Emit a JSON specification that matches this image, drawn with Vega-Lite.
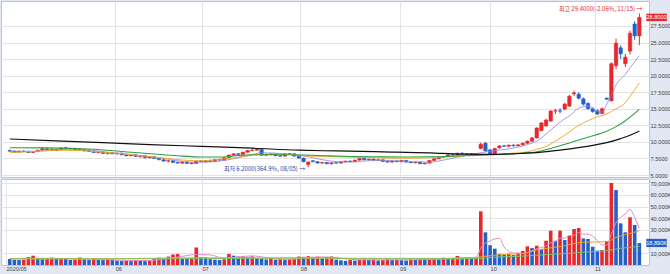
{
"$schema": "https://vega.github.io/schema/vega-lite/v6.json",
"padding": 0,
"background": "#e1e8f3",
"spacing": 2,
"bounds": "flush",
"config": {
 "view": {"stroke": "#c4c4c4", "fill": "white"},
 "font": "Noto Sans CJK KR",
 "axis": {"labelFont": "Liberation Sans", "labelFontSize": 6, "labelColor": "#444", "gridColor": "#e4e4e4", "gridWidth": 1, "ticks": false, "domain": false}
},
"resolve": {"scale": {"color": "independent", "strokeWidth": "independent"}},
"datasets": {
 "k": [
{"i":0,"o":8.70,"h":8.85,"l":8.55,"c":8.60,"v":5100},
{"i":1,"o":8.60,"h":8.70,"l":8.40,"c":8.45,"v":4500},
{"i":2,"o":8.45,"h":8.65,"l":8.40,"c":8.60,"v":4300},
{"i":3,"o":8.60,"h":8.75,"l":8.50,"c":8.55,"v":4600},
{"i":4,"o":8.50,"h":8.70,"l":8.35,"c":8.40,"v":6800},
{"i":5,"o":8.40,"h":8.60,"l":8.30,"c":8.55,"v":8000},
{"i":6,"o":8.55,"h":8.80,"l":8.50,"c":8.75,"v":5500},
{"i":7,"o":8.75,"h":9.25,"l":8.70,"c":8.95,"v":5000},
{"i":8,"o":8.95,"h":9.10,"l":8.80,"c":8.85,"v":5300},
{"i":9,"o":8.85,"h":9.00,"l":8.65,"c":8.70,"v":6300},
{"i":10,"o":8.70,"h":8.90,"l":8.60,"c":8.85,"v":5200},
{"i":11,"o":8.85,"h":9.20,"l":8.80,"c":9.05,"v":5900},
{"i":12,"o":9.10,"h":9.25,"l":8.90,"c":8.95,"v":5500},
{"i":13,"o":8.95,"h":9.10,"l":8.80,"c":9.00,"v":4300},
{"i":14,"o":9.00,"h":9.10,"l":8.75,"c":8.80,"v":4600},
{"i":15,"o":8.80,"h":8.95,"l":8.65,"c":8.85,"v":6400},
{"i":16,"o":8.85,"h":8.90,"l":8.60,"c":8.65,"v":4800},
{"i":17,"o":8.65,"h":8.80,"l":8.50,"c":8.55,"v":4300},
{"i":18,"o":8.55,"h":8.70,"l":8.35,"c":8.40,"v":5400},
{"i":19,"o":8.40,"h":8.55,"l":8.25,"c":8.45,"v":4600},
{"i":20,"o":8.45,"h":8.50,"l":8.20,"c":8.25,"v":4200},
{"i":21,"o":8.25,"h":8.40,"l":8.10,"c":8.35,"v":4700},
{"i":22,"o":8.35,"h":8.45,"l":8.15,"c":8.20,"v":4400},
{"i":23,"o":8.20,"h":8.35,"l":8.05,"c":8.30,"v":3800},
{"i":24,"o":8.30,"h":8.35,"l":8.00,"c":8.05,"v":3400},
{"i":25,"o":8.05,"h":8.15,"l":7.85,"c":7.90,"v":3600},
{"i":26,"o":7.90,"h":8.10,"l":7.85,"c":8.05,"v":3300},
{"i":27,"o":8.05,"h":8.15,"l":7.75,"c":7.80,"v":3900},
{"i":28,"o":7.80,"h":7.95,"l":7.60,"c":7.90,"v":3500},
{"i":29,"o":7.90,"h":7.95,"l":7.55,"c":7.60,"v":3300},
{"i":30,"o":7.60,"h":7.80,"l":7.50,"c":7.75,"v":4200},
{"i":31,"o":7.75,"h":7.80,"l":7.45,"c":7.50,"v":5200},
{"i":32,"o":7.50,"h":7.60,"l":7.25,"c":7.30,"v":6300},
{"i":33,"o":7.30,"h":7.40,"l":7.05,"c":7.10,"v":5500},
{"i":34,"o":7.10,"h":7.25,"l":6.90,"c":7.15,"v":7200},
{"i":35,"o":7.15,"h":7.20,"l":6.85,"c":6.90,"v":9000},
{"i":36,"o":6.90,"h":7.05,"l":6.75,"c":6.80,"v":9400},
{"i":37,"o":6.80,"h":7.00,"l":6.65,"c":6.95,"v":5700},
{"i":38,"o":6.95,"h":7.05,"l":6.70,"c":6.75,"v":5500},
{"i":39,"o":6.75,"h":6.90,"l":6.60,"c":6.85,"v":5900},
{"i":40,"o":6.75,"h":7.15,"l":6.70,"c":7.10,"v":15000},
{"i":41,"o":7.10,"h":7.25,"l":6.95,"c":7.00,"v":6800},
{"i":42,"o":7.00,"h":7.20,"l":6.90,"c":7.15,"v":6500},
{"i":43,"o":7.15,"h":7.30,"l":7.00,"c":7.05,"v":5000},
{"i":44,"o":7.05,"h":7.40,"l":7.00,"c":7.35,"v":4600},
{"i":45,"o":7.35,"h":7.45,"l":7.15,"c":7.25,"v":4300},
{"i":46,"o":7.25,"h":7.65,"l":7.20,"c":7.60,"v":4900},
{"i":47,"o":7.60,"h":8.10,"l":7.55,"c":8.00,"v":9400},
{"i":48,"o":8.00,"h":8.25,"l":7.90,"c":8.20,"v":8000},
{"i":49,"o":8.20,"h":8.35,"l":8.05,"c":8.10,"v":7200},
{"i":50,"o":8.10,"h":8.50,"l":8.05,"c":8.45,"v":7600},
{"i":51,"o":8.45,"h":8.80,"l":8.40,"c":8.70,"v":6800},
{"i":52,"o":8.70,"h":9.10,"l":8.60,"c":8.75,"v":7400},
{"i":53,"o":8.75,"h":9.05,"l":8.65,"c":8.90,"v":5600},
{"i":54,"o":8.85,"h":8.90,"l":7.90,"c":8.00,"v":5400},
{"i":55,"o":8.00,"h":8.20,"l":7.85,"c":8.10,"v":4800},
{"i":56,"o":8.10,"h":8.30,"l":7.95,"c":8.20,"v":5200},
{"i":57,"o":8.20,"h":8.25,"l":7.85,"c":7.90,"v":4600},
{"i":58,"o":7.90,"h":8.05,"l":7.75,"c":7.85,"v":5000},
{"i":59,"o":7.85,"h":8.30,"l":7.80,"c":8.20,"v":4500},
{"i":60,"o":8.20,"h":8.30,"l":8.10,"c":8.22,"v":4900},
{"i":61,"o":8.20,"h":8.25,"l":7.80,"c":7.85,"v":5600},
{"i":62,"o":7.85,"h":7.95,"l":7.50,"c":7.55,"v":7200},
{"i":63,"o":7.55,"h":7.60,"l":6.95,"c":7.00,"v":7000},
{"i":64,"o":6.60,"h":7.05,"l":6.20,"c":6.95,"v":7600},
{"i":65,"o":7.15,"h":7.25,"l":6.95,"c":7.00,"v":6500},
{"i":66,"o":7.00,"h":7.10,"l":6.75,"c":6.80,"v":7100},
{"i":67,"o":6.80,"h":6.95,"l":6.70,"c":6.90,"v":6300},
{"i":68,"o":6.90,"h":6.95,"l":6.65,"c":6.70,"v":6800},
{"i":69,"o":6.70,"h":6.90,"l":6.60,"c":6.85,"v":7300},
{"i":70,"o":6.85,"h":7.00,"l":6.75,"c":6.80,"v":4600},
{"i":71,"o":6.80,"h":7.05,"l":6.75,"c":7.00,"v":4000},
{"i":72,"o":7.00,"h":7.15,"l":6.90,"c":7.10,"v":3600},
{"i":73,"o":7.10,"h":7.20,"l":6.95,"c":7.00,"v":4200},
{"i":74,"o":7.00,"h":7.30,"l":6.95,"c":7.25,"v":3800},
{"i":75,"o":7.25,"h":7.55,"l":7.20,"c":7.50,"v":4500},
{"i":76,"o":7.50,"h":7.60,"l":7.25,"c":7.30,"v":4800},
{"i":77,"o":7.30,"h":7.45,"l":7.20,"c":7.40,"v":4300},
{"i":78,"o":7.40,"h":7.45,"l":7.20,"c":7.25,"v":4700},
{"i":79,"o":7.25,"h":7.35,"l":7.10,"c":7.30,"v":3900},
{"i":80,"o":7.30,"h":7.35,"l":7.00,"c":7.05,"v":4200},
{"i":81,"o":7.05,"h":7.20,"l":6.90,"c":6.95,"v":5000},
{"i":82,"o":6.95,"h":7.15,"l":6.90,"c":7.10,"v":4400},
{"i":83,"o":7.10,"h":7.20,"l":6.95,"c":7.00,"v":4600},
{"i":84,"o":7.00,"h":7.25,"l":6.95,"c":7.20,"v":4100},
{"i":85,"o":7.20,"h":7.25,"l":6.90,"c":6.95,"v":3900},
{"i":86,"o":6.95,"h":7.05,"l":6.80,"c":6.85,"v":4800},
{"i":87,"o":6.85,"h":7.00,"l":6.75,"c":6.95,"v":4300},
{"i":88,"o":6.95,"h":7.00,"l":6.65,"c":6.70,"v":5200},
{"i":89,"o":6.70,"h":6.85,"l":6.60,"c":6.80,"v":4600},
{"i":90,"o":6.80,"h":7.25,"l":6.75,"c":7.20,"v":5400},
{"i":91,"o":7.20,"h":7.50,"l":7.15,"c":7.45,"v":5800},
{"i":92,"o":7.45,"h":7.75,"l":7.40,"c":7.70,"v":5000},
{"i":93,"o":7.70,"h":7.85,"l":7.60,"c":7.80,"v":6200},
{"i":94,"o":7.80,"h":8.10,"l":7.75,"c":8.05,"v":5500},
{"i":95,"o":8.05,"h":8.25,"l":7.95,"c":8.00,"v":6000},
{"i":96,"o":8.00,"h":8.35,"l":7.95,"c":8.30,"v":7700},
{"i":97,"o":8.30,"h":8.40,"l":8.15,"c":8.20,"v":6200},
{"i":98,"o":8.20,"h":8.30,"l":8.10,"c":8.25,"v":6800},
{"i":99,"o":8.25,"h":8.30,"l":8.05,"c":8.10,"v":6000},
{"i":100,"o":8.10,"h":8.25,"l":8.00,"c":8.20,"v":6500},
{"i":101,"o":9.00,"h":9.90,"l":8.90,"c":9.65,"v":46000},
{"i":102,"o":9.80,"h":10.00,"l":8.50,"c":8.65,"v":28000},
{"i":103,"o":8.80,"h":8.90,"l":8.10,"c":8.20,"v":17000},
{"i":104,"o":8.20,"h":9.10,"l":8.15,"c":9.00,"v":14000},
{"i":105,"o":9.10,"h":9.50,"l":9.00,"c":9.40,"v":9500},
{"i":106,"o":9.40,"h":9.55,"l":9.25,"c":9.35,"v":9000},
{"i":107,"o":9.35,"h":9.60,"l":9.25,"c":9.50,"v":9800},
{"i":108,"o":9.50,"h":9.65,"l":9.30,"c":9.40,"v":8500},
{"i":109,"o":9.40,"h":9.70,"l":9.35,"c":9.55,"v":10500},
{"i":110,"o":9.55,"h":9.90,"l":9.50,"c":9.80,"v":12000},
{"i":111,"o":9.80,"h":10.20,"l":9.70,"c":10.10,"v":16000},
{"i":112,"o":10.10,"h":10.70,"l":10.00,"c":10.60,"v":14500},
{"i":113,"o":10.60,"h":12.20,"l":10.50,"c":12.10,"v":16500},
{"i":114,"o":11.70,"h":13.00,"l":11.60,"c":12.85,"v":13700},
{"i":115,"o":12.40,"h":13.50,"l":12.30,"c":13.30,"v":20800},
{"i":116,"o":13.15,"h":14.80,"l":13.00,"c":14.65,"v":29400},
{"i":117,"o":14.65,"h":15.00,"l":14.20,"c":14.70,"v":20800},
{"i":118,"o":14.70,"h":15.10,"l":14.30,"c":14.65,"v":29400},
{"i":119,"o":14.95,"h":15.90,"l":14.80,"c":15.70,"v":21400},
{"i":120,"o":15.40,"h":17.10,"l":15.30,"c":16.90,"v":25100},
{"i":121,"o":17.25,"h":17.75,"l":16.90,"c":17.40,"v":30800},
{"i":122,"o":17.20,"h":17.50,"l":16.40,"c":16.60,"v":31700},
{"i":123,"o":16.50,"h":16.70,"l":15.50,"c":15.70,"v":22800},
{"i":124,"o":15.80,"h":16.00,"l":14.90,"c":15.00,"v":22300},
{"i":125,"o":15.00,"h":15.20,"l":14.40,"c":14.60,"v":15700},
{"i":126,"o":14.70,"h":14.90,"l":14.10,"c":14.20,"v":12300},
{"i":127,"o":14.30,"h":15.20,"l":14.20,"c":15.00,"v":12900},
{"i":128,"o":16.60,"h":16.70,"l":16.30,"c":16.45,"v":20600},
{"i":129,"o":16.20,"h":22.00,"l":16.10,"c":21.80,"v":70300},
{"i":130,"o":21.50,"h":25.60,"l":21.00,"c":24.90,"v":64300},
{"i":131,"o":24.20,"h":24.60,"l":22.50,"c":23.30,"v":35700},
{"i":132,"o":21.80,"h":23.30,"l":21.30,"c":22.80,"v":28000},
{"i":133,"o":23.70,"h":26.80,"l":23.20,"c":26.40,"v":40900},
{"i":134,"o":27.80,"h":28.20,"l":25.40,"c":26.00,"v":34360},
{"i":135,"o":26.00,"h":29.40,"l":24.60,"c":28.80,"v":18890}
 ],
 "pma": [
{"s":"10","i":0,"v":8.6},{"s":"10","i":3,"v":8.55},{"s":"10","i":6,"v":8.6},{"s":"10","i":9,"v":8.75},{"s":"10","i":12,"v":8.9},{"s":"10","i":15,"v":8.9},{"s":"10","i":18,"v":8.7},{"s":"10","i":21,"v":8.45},{"s":"10","i":24,"v":8.25},{"s":"10","i":27,"v":8.0},{"s":"10","i":30,"v":7.75},{"s":"10","i":33,"v":7.5},{"s":"10","i":36,"v":7.15},{"s":"10","i":39,"v":6.95},{"s":"10","i":42,"v":6.95},{"s":"10","i":45,"v":7.1},{"s":"10","i":48,"v":7.45},{"s":"10","i":51,"v":7.9},{"s":"10","i":54,"v":8.35},{"s":"10","i":57,"v":8.3},{"s":"10","i":60,"v":8.15},{"s":"10","i":63,"v":7.9},{"s":"10","i":66,"v":7.45},{"s":"10","i":69,"v":7.1},{"s":"10","i":72,"v":6.95},{"s":"10","i":75,"v":7.05},{"s":"10","i":78,"v":7.2},{"s":"10","i":81,"v":7.2},{"s":"10","i":84,"v":7.1},{"s":"10","i":87,"v":7.0},{"s":"10","i":90,"v":6.95},{"s":"10","i":93,"v":7.25},{"s":"10","i":96,"v":7.7},{"s":"10","i":99,"v":8.1},{"s":"10","i":101,"v":8.35},{"s":"10","i":103,"v":8.6},{"s":"10","i":106,"v":8.85},{"s":"10","i":109,"v":9.2},{"s":"10","i":111,"v":9.6},{"s":"10","i":113,"v":10.1},{"s":"10","i":115,"v":11.2},{"s":"10","i":117,"v":12.4},{"s":"10","i":119,"v":13.5},{"s":"10","i":120,"v":13.9},{"s":"10","i":122,"v":15.1},{"s":"10","i":124,"v":15.4},{"s":"10","i":126,"v":14.6},{"s":"10","i":127,"v":14.5},{"s":"10","i":128,"v":15.7},{"s":"10","i":129,"v":17.0},{"s":"10","i":130,"v":18.6},{"s":"10","i":131,"v":19.5},{"s":"10","i":132,"v":20.2},{"s":"10","i":133,"v":21.2},{"s":"10","i":134,"v":22.1},{"s":"10","i":135,"v":23.0},
{"s":"20","i":0,"v":8.35},{"s":"20","i":5,"v":8.55},{"s":"20","i":10,"v":8.73},{"s":"20","i":15,"v":8.7},{"s":"20","i":20,"v":8.45},{"s":"20","i":25,"v":8.15},{"s":"20","i":31,"v":7.72},{"s":"20","i":35,"v":7.4},{"s":"20","i":38,"v":7.21},{"s":"20","i":41,"v":7.15},{"s":"20","i":45,"v":7.35},{"s":"20","i":48,"v":7.6},{"s":"20","i":52,"v":8.0},{"s":"20","i":56,"v":8.15},{"s":"20","i":60,"v":8.1},{"s":"20","i":63,"v":7.9},{"s":"20","i":68,"v":7.8},{"s":"20","i":73,"v":7.7},{"s":"20","i":78,"v":7.6},{"s":"20","i":84,"v":7.52},{"s":"20","i":90,"v":7.6},{"s":"20","i":94,"v":7.75},{"s":"20","i":98,"v":7.95},{"s":"20","i":102,"v":8.05},{"s":"20","i":105,"v":8.1},{"s":"20","i":108,"v":8.3},{"s":"20","i":111,"v":8.5},{"s":"20","i":113,"v":8.9},{"s":"20","i":115,"v":9.3},{"s":"20","i":117,"v":10.1},{"s":"20","i":120,"v":11.5},{"s":"20","i":122,"v":12.5},{"s":"20","i":124,"v":13.2},{"s":"20","i":126,"v":13.8},{"s":"20","i":128,"v":14.2},{"s":"20","i":130,"v":15.0},{"s":"20","i":132,"v":15.9},{"s":"20","i":133,"v":16.9},{"s":"20","i":134,"v":17.9},{"s":"20","i":135,"v":18.9},
{"s":"60","i":0,"v":9.12},{"s":"60","i":7,"v":9.1},{"s":"60","i":13,"v":9.03},{"s":"60","i":20,"v":8.78},{"s":"60","i":26,"v":8.45},{"s":"60","i":31,"v":8.17},{"s":"60","i":36,"v":7.9},{"s":"60","i":41,"v":7.72},{"s":"60","i":45,"v":7.72},{"s":"60","i":48,"v":7.87},{"s":"60","i":52,"v":8.05},{"s":"60","i":57,"v":8.05},{"s":"60","i":63,"v":8.02},{"s":"60","i":68,"v":7.9},{"s":"60","i":73,"v":7.8},{"s":"60","i":78,"v":7.75},{"s":"60","i":84,"v":7.72},{"s":"60","i":90,"v":7.75},{"s":"60","i":96,"v":7.87},{"s":"60","i":101,"v":8.0},{"s":"60","i":105,"v":8.1},{"s":"60","i":109,"v":8.25},{"s":"60","i":113,"v":8.5},{"s":"60","i":116,"v":9.0},{"s":"60","i":120,"v":9.85},{"s":"60","i":124,"v":10.7},{"s":"60","i":128,"v":11.6},{"s":"60","i":130,"v":12.3},{"s":"60","i":132,"v":13.2},{"s":"60","i":134,"v":14.3},{"s":"60","i":135,"v":14.9},
{"s":"120","i":0,"v":10.44},{"s":"120","i":10,"v":10.15},{"s":"120","i":20,"v":9.88},{"s":"120","i":30,"v":9.6},{"s":"120","i":41,"v":9.33},{"s":"120","i":52,"v":9.05},{"s":"120","i":62,"v":8.75},{"s":"120","i":70,"v":8.63},{"s":"120","i":80,"v":8.5},{"s":"120","i":90,"v":8.35},{"s":"120","i":97,"v":8.15},{"s":"120","i":103,"v":8.12},{"s":"120","i":108,"v":8.2},{"s":"120","i":113,"v":8.37},{"s":"120","i":118,"v":8.75},{"s":"120","i":123,"v":9.25},{"s":"120","i":128,"v":9.88},{"s":"120","i":131,"v":10.5},{"s":"120","i":133,"v":11.0},{"s":"120","i":135,"v":11.64}
 ],
 "vma": [
{"s":"5","i":0,"v":5500},{"s":"5","i":5,"v":5800},{"s":"5","i":10,"v":5700},{"s":"5","i":15,"v":5300},{"s":"5","i":20,"v":4900},{"s":"5","i":25,"v":3900},{"s":"5","i":30,"v":3800},{"s":"5","i":34,"v":5700},{"s":"5","i":37,"v":7400},{"s":"5","i":40,"v":9000},{"s":"5","i":43,"v":8600},{"s":"5","i":46,"v":5800},{"s":"5","i":49,"v":6900},{"s":"5","i":52,"v":7800},{"s":"5","i":55,"v":6400},{"s":"5","i":58,"v":5000},{"s":"5","i":61,"v":5000},{"s":"5","i":64,"v":6500},{"s":"5","i":67,"v":6900},{"s":"5","i":70,"v":6300},{"s":"5","i":73,"v":4800},{"s":"5","i":77,"v":4400},{"s":"5","i":82,"v":4400},{"s":"5","i":87,"v":4500},{"s":"5","i":92,"v":5100},{"s":"5","i":96,"v":6100},{"s":"5","i":100,"v":6500},{"s":"5","i":101,"v":14300},{"s":"5","i":102,"v":18800},{"s":"5","i":103,"v":20600},{"s":"5","i":104,"v":22300},{"s":"5","i":105,"v":22900},{"s":"5","i":106,"v":15500},{"s":"5","i":107,"v":11900},{"s":"5","i":108,"v":10200},{"s":"5","i":110,"v":10000},{"s":"5","i":112,"v":12200},{"s":"5","i":113,"v":14000},{"s":"5","i":115,"v":16300},{"s":"5","i":116,"v":19000},{"s":"5","i":117,"v":20100},{"s":"5","i":118,"v":22900},{"s":"5","i":119,"v":23100},{"s":"5","i":120,"v":25300},{"s":"5","i":121,"v":25500},{"s":"5","i":122,"v":27700},{"s":"5","i":123,"v":26400},{"s":"5","i":124,"v":26500},{"s":"5","i":125,"v":24700},{"s":"5","i":126,"v":21000},{"s":"5","i":127,"v":17200},{"s":"5","i":128,"v":16800},{"s":"5","i":129,"v":26400},{"s":"5","i":130,"v":36100},{"s":"5","i":131,"v":40800},{"s":"5","i":132,"v":43800},{"s":"5","i":133,"v":47800},{"s":"5","i":134,"v":40600},{"s":"5","i":135,"v":31600},
{"s":"20","i":0,"v":5400},{"s":"20","i":20,"v":5300},{"s":"20","i":40,"v":6200},{"s":"20","i":60,"v":6100},{"s":"20","i":80,"v":5200},{"s":"20","i":97,"v":5200},{"s":"20","i":101,"v":7000},{"s":"20","i":105,"v":8800},{"s":"20","i":110,"v":9900},{"s":"20","i":113,"v":12800},{"s":"20","i":118,"v":15800},{"s":"20","i":123,"v":19500},{"s":"20","i":128,"v":19960},{"s":"20","i":130,"v":23600},{"s":"20","i":133,"v":27000},{"s":"20","i":135,"v":29400},
{"s":"60","i":0,"v":5200},{"s":"60","i":40,"v":5400},{"s":"60","i":60,"v":5900},{"s":"60","i":80,"v":5700},{"s":"60","i":100,"v":5600},{"s":"60","i":105,"v":6900},{"s":"60","i":110,"v":7600},{"s":"60","i":115,"v":8800},{"s":"60","i":120,"v":10000},{"s":"60","i":125,"v":11500},{"s":"60","i":128,"v":12300},{"s":"60","i":131,"v":14300},{"s":"60","i":135,"v":15900}
 ]
},
"vconcat": [
 {
  "width": 648, "height": 176,
  "resolve": {"axis": {"y": "independent"}},
  "encoding": {"x": {"field": "i", "type": "quantitative", "title": null,
    "scale": {"domain": [-0.8, 136], "nice": false, "zero": false},
    "axis": {"values": [22.6, 41.2, 62.3, 83.6, 103.0, 125.4], "labels": false, "grid": true, "labelPadding": 0, "minExtent": 0, "maxExtent": 0}}},
  "layer": [
   {"data": {"name": "k"}, "mark": {"type": "rule", "strokeWidth": 1},
    "encoding": {
     "y": {"field": "l", "type": "quantitative", "title": null, "scale": {"domain": [4.70, 31.27], "nice": false, "zero": false},
       "axis": {"orient": "right", "values": [5, 7.5, 10, 12.5, 15, 17.5, 20, 22.5, 25, 27.5], "format": ".4f", "grid": true, "labelPadding": 1, "labelFontSize": 5.6, "labelOverlap": false, "minExtent": 22, "maxExtent": 22}},
     "y2": {"field": "h"},
     "color": {"condition": {"test": "datum.c >= datum.o", "value": "#e8262b"}, "value": "#2361c9"}}},
   {"data": {"name": "k"}, "mark": {"type": "bar", "size": 3.4, "strokeWidth": 0.6},
    "encoding": {
     "y": {"field": "o", "type": "quantitative", "title": null, "axis": null},
     "y2": {"field": "c"},
     "color": {"condition": {"test": "datum.c >= datum.o", "value": "#e8262b"}, "value": "#2361c9"},
     "stroke": {"condition": {"test": "datum.c >= datum.o", "value": "#e8262b"}, "value": "#2361c9"}}},
   {"data": {"name": "pma"}, "mark": {"type": "line", "interpolate": "monotone"},
    "encoding": {
     "y": {"field": "v", "type": "quantitative", "title": null, "axis": null},
     "color": {"field": "s", "type": "nominal", "scale": {"domain": ["10", "20", "60", "120"], "range": ["#8c84e0", "#f0a52a", "#2e9e3e", "#111111"]}, "legend": null},
     "strokeWidth": {"field": "s", "type": "nominal", "scale": {"domain": ["10", "20", "60", "120"], "range": [0.8, 1.2, 1.6, 2.2]}, "legend": null}}},
   {"data": {"name": "k"}, "transform": [{"filter": "datum.i == 135"}],
    "mark": {"type": "text", "align": "right", "baseline": "bottom", "dx": 3, "dy": -1, "fontSize": 6, "color": "#e8262b"},
    "encoding": {"y": {"field": "h", "type": "quantitative", "title": null, "axis": null}, "text": {"value": "최고 29.4000(-2.06%, 11/15) →"}}},
   {"data": {"name": "k"}, "transform": [{"filter": "datum.i == 64"}],
    "mark": {"type": "text", "align": "right", "baseline": "middle", "dx": -3, "dy": 2, "fontSize": 6, "color": "#2b3fa0"},
    "encoding": {"y": {"field": "l", "type": "quantitative", "title": null, "axis": null}, "text": {"value": "최저 6.2000(364.9%, 08/05) →"}}},
   {"data": {"name": "k"}, "transform": [{"filter": "datum.i == 135"}],
    "mark": {"type": "point", "shape": "M-1,-0.36L1,-0.36L1,0.36L-1,0.36Z", "size": 420, "filled": true, "opacity": 1, "color": "#e8262b"},
    "encoding": {"x": {"datum": 138.7}, "y": {"field": "c", "type": "quantitative", "title": null, "axis": null}}},
   {"data": {"name": "k"}, "transform": [{"filter": "datum.i == 135"}],
    "mark": {"type": "text", "align": "center", "baseline": "middle", "fontSize": 5.6, "font": "Liberation Sans", "color": "white"},
    "encoding": {"x": {"datum": 138.7}, "y": {"field": "c", "type": "quantitative", "title": null, "axis": null}, "text": {"field": "c", "format": ".4f"}}},
   {"data": {"values": [{}]}, "mark": {"type": "text", "align": "left", "baseline": "middle", "fontSize": 5.6, "font": "Liberation Sans", "color": "#3050c0"},
    "encoding": {"x": {"datum": 136.7}, "y": {"datum": 30.75, "axis": null}, "text": {"value": "LC: 30.471"}}},
   {"data": {"values": [{}]}, "mark": {"type": "text", "align": "left", "baseline": "middle", "fontSize": 5.6, "font": "Liberation Sans", "color": "#3050c0"},
    "encoding": {"x": {"datum": 136.7}, "y": {"datum": 29.9, "axis": null}, "text": {"value": "PC: -2.06"}}},
   {"data": {"values": [{}]}, "mark": {"type": "text", "align": "left", "baseline": "middle", "fontSize": 6, "color": "#333"},
    "encoding": {"x": {"datum": -0.4}, "y": {"datum": 30.5, "axis": null}, "text": {"value": "*CENN INC (해외종목)"}}},
   {"data": {"values": [{}]}, "mark": {"type": "text", "align": "left", "baseline": "middle", "fontSize": 6, "color": "#5560d8"},
    "encoding": {"x": {"datum": 9.3}, "y": {"datum": 30.5, "axis": null}, "text": {"value": "10"}}},
   {"data": {"values": [{}]}, "mark": {"type": "text", "align": "left", "baseline": "middle", "fontSize": 6, "color": "#e0a020"},
    "encoding": {"x": {"datum": 10.9}, "y": {"datum": 30.5, "axis": null}, "text": {"value": "20"}}},
   {"data": {"values": [{}]}, "mark": {"type": "text", "align": "left", "baseline": "middle", "fontSize": 6, "color": "#2e9e3e"},
    "encoding": {"x": {"datum": 12.5}, "y": {"datum": 30.5, "axis": null}, "text": {"value": "60"}}},
   {"data": {"values": [{}]}, "mark": {"type": "text", "align": "left", "baseline": "middle", "fontSize": 6, "color": "#7f8a99"},
    "encoding": {"x": {"datum": 14.1}, "y": {"datum": 30.5, "axis": null}, "text": {"value": "120"}}}
  ]
 },
 {
  "width": 648, "height": 86,
  "resolve": {"axis": {"y": "independent"}},
  "encoding": {"x": {"field": "i", "type": "quantitative", "title": null,
    "scale": {"domain": [-0.8, 136], "nice": false, "zero": false},
    "axis": {"values": [-0.8, 22.6, 41.2, 62.3, 83.6, 103.0, 125.4],
      "labelExpr": "datum.value < 0 ? '2020/05' : datum.value < 30 ? '06' : datum.value < 50 ? '07' : datum.value < 70 ? '08' : datum.value < 90 ? '09' : datum.value < 110 ? '10' : '11'",
      "labelAlign": "left", "labelBaseline": "top", "labelPadding": 1, "labelFontSize": 5.6, "grid": true, "labelOverlap": false, "labelBound": false, "labelFlush": false, "minExtent": 8, "maxExtent": 8}}},
  "layer": [
   {"data": {"name": "k"},
    "transform": [{"window": [{"op": "lag", "field": "v", "as": "pv"}], "sort": [{"field": "i"}]}],
    "mark": {"type": "bar", "size": 3.6},
    "encoding": {
     "y": {"field": "v", "type": "quantitative", "title": null, "scale": {"domain": [0, 73700], "nice": false},
       "axis": {"orient": "right", "values": [10000, 30000, 40000, 50000, 60000, 70000], "labelExpr": "format(datum.value, ',') + 'K'", "grid": true, "labelPadding": 1, "labelFontSize": 5.6, "labelOverlap": false, "minExtent": 22, "maxExtent": 22}},
     "color": {"condition": {"test": "datum.pv != null && datum.v > datum.pv", "value": "#e8262b"}, "value": "#2361c9"}}},
   {"data": {"name": "vma"}, "mark": {"type": "line", "interpolate": "monotone", "strokeWidth": 1},
    "encoding": {
     "y": {"field": "v", "type": "quantitative", "title": null, "axis": null},
     "color": {"field": "s", "type": "nominal", "scale": {"domain": ["5", "20", "60"], "range": ["#e08cc8", "#f0a52a", "#7cc46c"]}, "legend": null}}},
   {"data": {"name": "k"}, "transform": [{"filter": "datum.i == 135"}],
    "mark": {"type": "point", "shape": "M-1,-0.4L1,-0.4L1,0.4L-1,0.4Z", "size": 420, "filled": true, "opacity": 1, "color": "#2361c9"},
    "encoding": {"x": {"datum": 138.7}, "y": {"field": "v", "type": "quantitative", "title": null, "axis": null}}},
   {"data": {"name": "k"}, "transform": [{"filter": "datum.i == 135"}, {"calculate": "format(datum.v, ',') + 'K'", "as": "lab"}],
    "mark": {"type": "text", "align": "center", "baseline": "middle", "fontSize": 5.6, "font": "Liberation Sans", "color": "white"},
    "encoding": {"x": {"datum": 138.7}, "y": {"field": "v", "type": "quantitative", "title": null, "axis": null}, "text": {"field": "lab"}}},
   {"data": {"values": [{}]}, "mark": {"type": "text", "align": "left", "baseline": "middle", "fontSize": 5.6, "font": "Liberation Sans", "color": "#444"},
    "encoding": {"x": {"datum": 137.4}, "y": {"datum": -3600, "axis": null}, "text": {"value": "11/15"}}},
   {"data": {"values": [{}]}, "mark": {"type": "text", "align": "left", "baseline": "middle", "fontSize": 6, "color": "#3050c0"},
    "encoding": {"x": {"datum": -0.4}, "y": {"datum": 70800, "axis": null}, "text": {"value": "* 거래량"}}},
   {"data": {"values": [{}]}, "mark": {"type": "text", "align": "left", "baseline": "middle", "fontSize": 6, "color": "#c060b0"},
    "encoding": {"x": {"datum": 4.0}, "y": {"datum": 70800, "axis": null}, "text": {"value": "이동평균 5"}}},
   {"data": {"values": [{}]}, "mark": {"type": "text", "align": "left", "baseline": "middle", "fontSize": 6, "color": "#e0a020"},
    "encoding": {"x": {"datum": 8.6}, "y": {"datum": 70800, "axis": null}, "text": {"value": "20"}}},
   {"data": {"values": [{}]}, "mark": {"type": "text", "align": "left", "baseline": "middle", "fontSize": 6, "color": "#2e9e3e"},
    "encoding": {"x": {"datum": 10.1}, "y": {"datum": 70800, "axis": null}, "text": {"value": "60"}}},
   {"data": {"values": [{}]}, "mark": {"type": "text", "align": "left", "baseline": "middle", "fontSize": 6, "color": "#7f8a99"},
    "encoding": {"x": {"datum": 11.6}, "y": {"datum": 70800, "axis": null}, "text": {"value": "120"}}},
   {"data": {"values": [{}]}, "mark": {"type": "text", "align": "left", "baseline": "middle", "fontSize": 6, "font": "Liberation Sans", "color": "#333"},
    "encoding": {"x": {"datum": -0.4}, "y": {"datum": 66000, "axis": null}, "text": {"value": "18,890,301(54.98%)"}}}
  ]
 }
]
}
